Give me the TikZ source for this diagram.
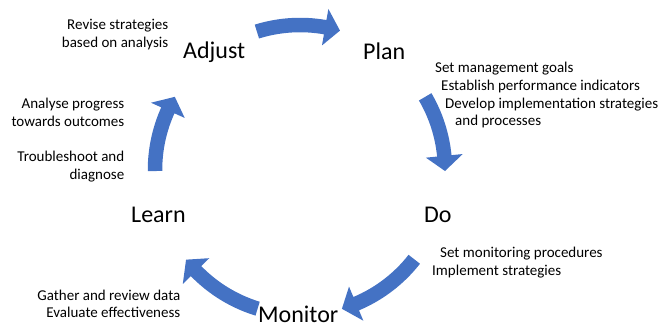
\documentclass[tikz,border=0pt]{standalone}
\usepackage{fontspec}
\setmainfont{Carlito}
\definecolor{arrowblue}{HTML}{4472C4}
\begin{document}
\begin{tikzpicture}[x=1pt,y=1pt,
  stage/.style={inner sep=0pt,font=\fontsize{24}{29}\selectfont},
  note/.style={inner sep=0pt,font=\fontsize{15}{18}\selectfont},
  cyc/.style={fill=arrowblue}]
\path[use as bounding box] (0,0) rectangle (663,327);
% stage labels
\node[stage,anchor=base west] (adjust) at (183,268.5) {Adjust};
\node[stage,anchor=base west] (plan) at (363,267.7) {Plan};
\node[stage,anchor=base west] (do) at (424,104.3) {Do};
\node[stage,anchor=base west] (learn) at (131,104.3) {Learn};
\node[stage,anchor=base west] (monitor) at (258,5) {Monitor};
% notes
\node[note,anchor=base east] (rev1) at (168.5,297.5) {Revise strategies};
\node[note,anchor=base east] (rev2) at (168.5,279) {based on analysis};
\node[note,anchor=base east] (ana1) at (124.5,218.5) {Analyse progress};
\node[note,anchor=base east] (ana2) at (124.5,200.5) {towards outcomes};
\node[note,anchor=base east] (tro1) at (124.5,165.5) {Troubleshoot and};
\node[note,anchor=base east] (tro2) at (124.5,147.5) {diagnose};
\node[note,anchor=base west] (pl1) at (435,254.5) {Set management goals};
\node[note,anchor=base west] (pl2) at (441,236.5) {Establish performance indicators};
\node[note,anchor=base west] (pl3) at (445,218.7) {Develop implementation strategies};
\node[note,anchor=base west] (pl4) at (455,201) {and processes};
\node[note,anchor=base west] (do1) at (440,69.3) {Set monitoring procedures};
\node[note,anchor=base west] (do2) at (432,52) {Implement strategies};
\node[note,anchor=base east] (mo1) at (180.5,27) {Gather and review data};
\node[note,anchor=base east] (mo2) at (180.5,9.3) {Evaluate effectiveness};
% cycle arrows
\begin{scope}[shift={(300,157)}]
\foreach \ta/\pa in {107.3/74, 30.3/-0.4, -38/-73.2, -107/-141.8, 180.4/149.7}{
  \pgfmathsetmacro\hb{\pa+6}
  \fill[cyc] (\ta:152.25pt) arc[start angle=\ta, end angle=\hb, radius=152.25pt]
    -- (\hb:163.5pt) -- (\pa:145pt) -- (\hb:126.5pt) -- (\hb:137.75pt)
    arc[start angle=\hb, end angle=\ta, radius=137.75pt] -- cycle;
}
\end{scope}
\end{tikzpicture}
\end{document}
